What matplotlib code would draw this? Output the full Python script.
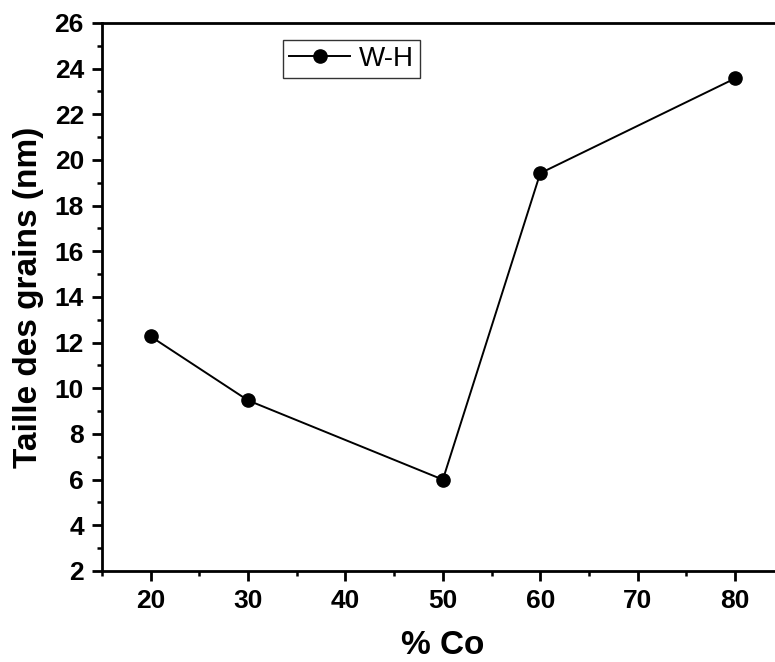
import matplotlib
matplotlib.use("Agg")
import matplotlib.pyplot as plt
from matplotlib.ticker import MultipleLocator

co_percent = [20, 30, 50, 60, 80]
grain_size = [12.27, 9.47, 6.0, 19.42, 23.57]
series_label = "W-H"
x_label = "% Co"
y_label = "Taille des grains (nm)"

plt.rcParams['font.family'] = ['Liberation Sans', 'DejaVu Sans']

fig = plt.figure(figsize=(7.75, 6.62), dpi=100)
ax = fig.add_axes([0.1316, 0.1375, 0.8684 + 0.01, 0.8278])

ax.plot(co_percent, grain_size, color='black', lw=1.4, marker='o', ms=9.5,
        label=series_label)

ax.set_xlim(15, 84.9)
ax.set_ylim(2, 26)
ax.xaxis.set_major_locator(MultipleLocator(10))
ax.xaxis.set_minor_locator(MultipleLocator(5))
ax.yaxis.set_major_locator(MultipleLocator(2))
ax.yaxis.set_minor_locator(MultipleLocator(1))

for s in ['left', 'bottom', 'top']:
    ax.spines[s].set_linewidth(2)
ax.spines['right'].set_visible(False)

ax.tick_params(which='major', direction='out', length=7, width=2,
               labelsize=19, pad=6)
ax.tick_params(which='minor', direction='out', length=3.5, width=1.8)
for lbl in ax.get_xticklabels() + ax.get_yticklabels():
    lbl.set_fontweight('bold')

ax.set_xlabel(x_label, fontsize=24, fontweight='bold', labelpad=12)
ax.set_ylabel(y_label, fontsize=24, fontweight='bold', labelpad=7.5)

leg = ax.legend(loc='upper left', bbox_to_anchor=(0.266, 0.969),
                borderaxespad=0, fontsize=20, frameon=True, fancybox=False,
                edgecolor='black', handlelength=2.2, handletextpad=0.3,
                borderpad=0.22)
leg.get_frame().set_linewidth(1.0)

fig.savefig("out.png", dpi=100)
